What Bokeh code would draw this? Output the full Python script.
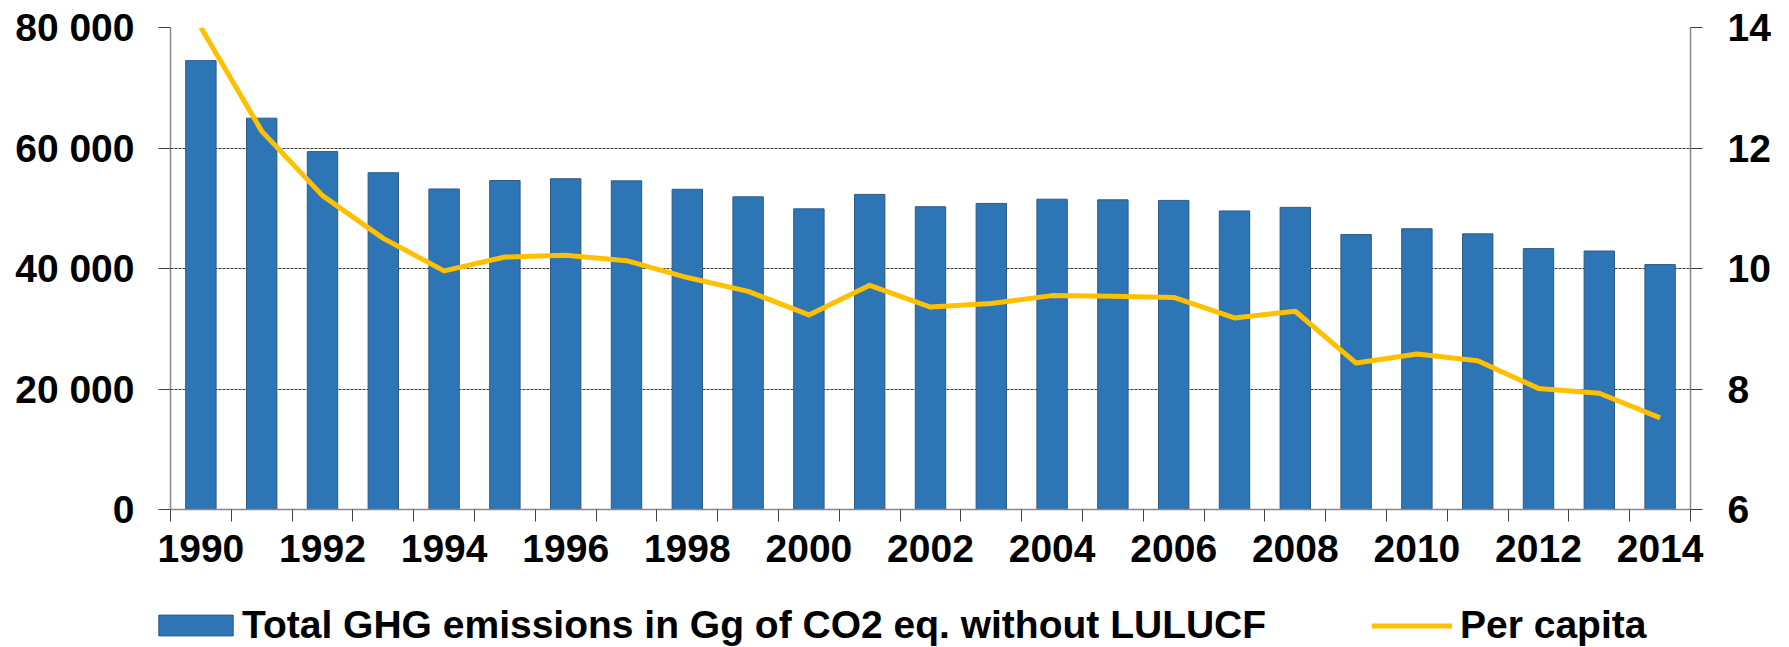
from bokeh.plotting import figure
from bokeh.layouts import column
from bokeh.models import Range1d, LinearAxis, FixedTicker, Legend, LegendItem
from bokeh.embed import file_html
from bokeh.resources import INLINE

years = list(range(1990, 2015))
ghg = [74500, 64950, 59400, 55900, 53200, 54600, 54900, 54550, 53150, 51900,
       49900, 52300, 50250, 50800, 51500, 51400, 51300, 49550, 50150, 45650,
       46600, 45750, 43300, 42900, 40650]
per_capita = [14.0, 12.28, 11.21, 10.50, 9.96, 10.19, 10.22, 10.13, 9.85, 9.62,
              9.23, 9.72, 9.36, 9.42, 9.55, 9.54, 9.52, 9.18, 9.29, 8.43,
              8.58, 8.47, 8.01, 7.93, 7.52]
left_ticks = [0, 20000, 40000, 60000, 80000]
left_labels = ["0", "20 000", "40 000", "60 000", "80 000"]
right_ticks = [6, 8, 10, 12, 14]
year_ticks = list(range(1990, 2015, 2))
bar_label = "Total GHG emissions in Gg of CO2 eq. without LULUCF"
line_label = "Per capita"

FONT = "Liberation Sans, Arial, sans-serif"
FS = "39px"
BAR_FILL = "#2E75B6"
BAR_LINE = "#2F5A86"
LINE_COL = "#FFC000"

p = figure(frame_width=1520, frame_height=482,
           x_range=Range1d(1989.5, 2014.5), y_range=Range1d(0, 80000),
           output_backend="svg", toolbar_location=None,
           min_border_left=170, min_border_right=99,
           min_border_top=27, min_border_bottom=90)
p.outline_line_color = None
p.background_fill_color = "white"
p.border_fill_color = "white"

p.extra_y_ranges = {"pc": Range1d(6, 14)}

bars = p.vbar(x=years, top=ghg, bottom=0, width=0.5,
              fill_color=BAR_FILL, line_color=BAR_LINE, line_width=1)
line = p.line(x=years, y=per_capita, y_range_name="pc",
              line_color=LINE_COL, line_width=5, line_join="round")

# grids
p.xgrid.visible = False
p.ygrid.ticker = FixedTicker(ticks=left_ticks[1:])
p.ygrid.grid_line_color = "#3C3C3C"
p.ygrid.grid_line_dash = "3 1"
p.ygrid.grid_line_width = 1

def style_axis(ax):
    ax.major_label_text_font = FONT
    ax.major_label_text_font_style = "bold"
    ax.major_label_text_font_size = FS
    ax.major_label_text_color = "black"
    ax.axis_line_color = "#868686"
    ax.axis_line_width = 1.5
    ax.major_tick_line_color = "#404040"
    ax.major_tick_in = 0
    ax.major_tick_out = 12
    ax.minor_tick_line_color = None

# left axis
la = p.yaxis[0]
la.ticker = FixedTicker(ticks=left_ticks)
la.major_label_overrides = {t: s for t, s in zip(left_ticks, left_labels)}
style_axis(la)
la.major_label_standoff = 24

# right axis
ra = LinearAxis(y_range_name="pc", ticker=FixedTicker(ticks=right_ticks))
style_axis(ra)
ra.major_label_standoff = 25
p.add_layout(ra, "right")

# bottom axis: ticks between categories (minor), labels on every 2nd year
xa = p.xaxis[0]
boundaries = [y - 0.5 for y in years] + [years[-1] + 0.5]
xa.ticker = FixedTicker(ticks=year_ticks, minor_ticks=boundaries)
style_axis(xa)
xa.major_tick_line_color = None
xa.minor_tick_line_color = "#404040"
xa.minor_tick_in = 0
xa.minor_tick_out = 12
xa.major_label_standoff = 13

# legend strip below the chart (its glyphs use the same data, kept out of view)
lf = figure(frame_width=1789, frame_height=48,
            x_range=Range1d(0, 1), y_range=Range1d(0, 1),
            x_axis_type=None, y_axis_type=None,
            output_backend="svg", toolbar_location=None,
            min_border=0)
lf.outline_line_color = None
lf.background_fill_color = "white"
lf.border_fill_color = "white"
lb = lf.vbar(x=years, top=ghg, width=0.5,
             fill_color=BAR_FILL, line_color=BAR_LINE, line_width=1)
ll = lf.line(x=years, y=per_capita, line_color=LINE_COL, line_width=5,
             line_cap="round")

common = dict(orientation="horizontal", padding=0, margin=0,
              border_line_color=None, background_fill_color=None,
              label_text_font=FONT, label_text_font_style="bold",
              label_text_font_size="39px", label_text_color="black")

legend_bar = Legend(items=[LegendItem(label=bar_label, renderers=[lb])],
                    location=(149, 0), glyph_width=93, glyph_height=26,
                    label_standoff=0, **common)
legend_line = Legend(items=[LegendItem(label=line_label, renderers=[ll])],
                     location=(1372, 0), glyph_width=80, glyph_height=21,
                     label_standoff=8, **common)
lf.add_layout(legend_bar, "center")
lf.add_layout(legend_line, "center")

layout = column(p, lf, spacing=0)
open("out.html", "w").write(file_html(layout, INLINE))
